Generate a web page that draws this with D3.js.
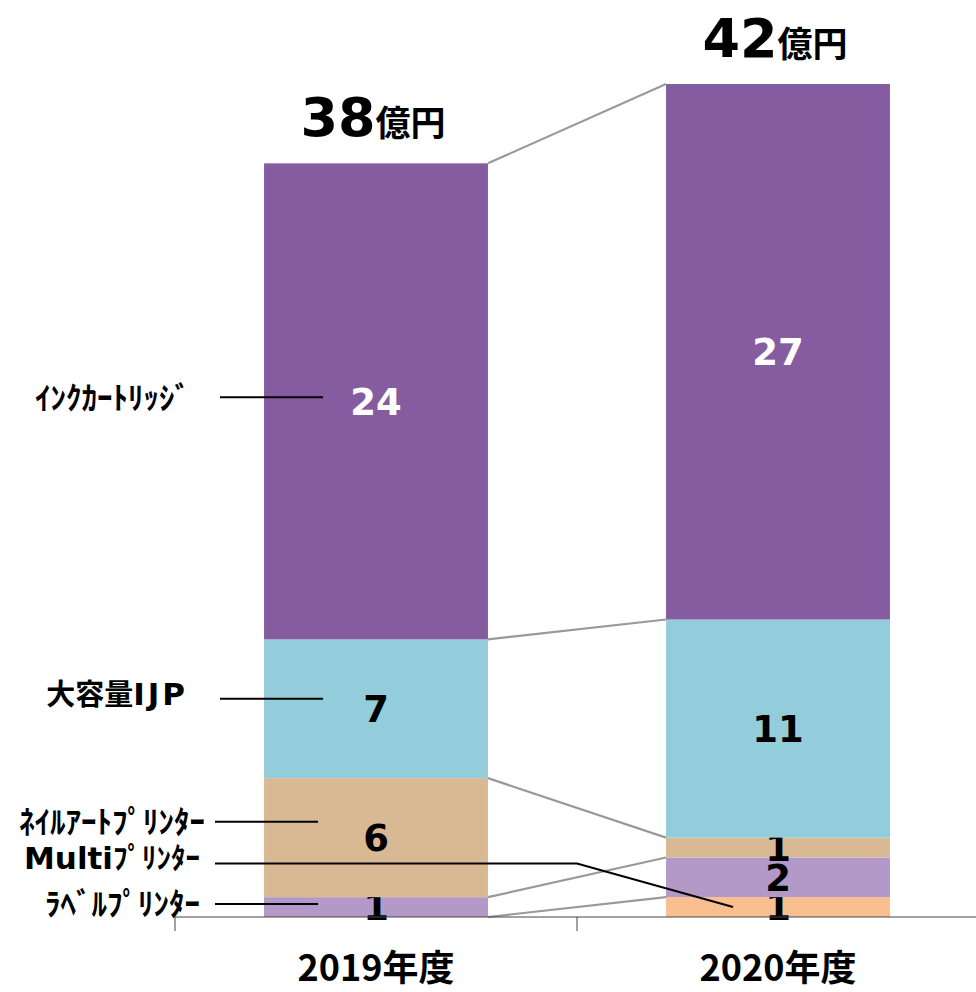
<!DOCTYPE html>
<meta charset="utf-8">
<script src="https://d3js.org/d3.v7.min.js"></script>
<style>
  body { margin: 0; background: #fff; }
  .num { font-family: "DejaVu Sans", Verdana, sans-serif; font-weight: bold; }
  .jp { font-family: "Noto Sans CJK JP", sans-serif; font-weight: bold; }
</style>
<body>
<script>

// DATA (stack order: bottom -> top)

var years = ["2019年度", "2020年度"];
var keys = ["multi", "label", "nail", "ijp", "ink"];
var seriesNames = ["Multiﾌﾟﾘﾝﾀｰ", "ﾗﾍﾞﾙﾌﾟﾘﾝﾀｰ", "ﾈｲﾙｱｰﾄﾌﾟﾘﾝﾀｰ", "大容量IJP", "ｲﾝｸｶｰﾄﾘｯｼﾞ"];
var values2019 = [0, 1, 6, 7, 24];
var values2020 = [1, 2, 1, 11, 27];
var totals = [38, 42];
var totalUnit = "億円";

var colors = ["#F9BF8F", "#B399C7", "#D9B993", "#93CDDC", "#865CA0"];
var labelColors = ["#000", "#000", "#000", "#000", "#fff"];

// where the left-hand leader lines sit, in value units
var leaderLevel = [2.7, 0.65, 4.8, 11, 26.2];
var nameRight = [200, 200, 205, 188, 190];
var leaderStart = [215, 215, 215, 220, 220];


// SETUP

var width = 976;
var height = 992;

var svg = d3.select("body")
  .append("svg")
  .attr("width", width)
  .attr("height", height);

var rows = years.map(function (y, i) {
  var r = { year: y };
  keys.forEach(function (k, j) {
    r[k] = (i === 0 ? values2019 : values2020)[j];
  });
  return r;
});

var stacked = d3.stack().keys(keys)(rows);

var xScale = d3.scaleBand()
  .domain(years)
  .range([175, 979]);

var barW = xScale.bandwidth() * 0.557;
var barX = function (yr) { return xScale(yr) + (xScale.bandwidth() - barW) / 2; };

var yScale = d3.scaleLinear()
  .domain([0, d3.max(totals)])
  .range([917, 84]);


// BARS

var layers = svg.append("g")
  .selectAll("g")
  .data(stacked)
  .enter().append("g")
  .attr("fill", function (d, i) { return colors[i]; });

layers.selectAll("rect")
  .data(function (d) { return d; })
  .enter().append("rect")
  .attr("x", function (d) { return barX(d.data.year); })
  .attr("width", barW)
  .attr("y", function (d) { return yScale(d[1]); })
  .attr("height", function (d) { return yScale(d[0]) - yScale(d[1]); });


// SERIES LINES

svg.append("g")
  .selectAll("line")
  .data(stacked)
  .enter().append("line")
  .attr("x1", barX(years[0]) + barW)
  .attr("y1", function (d) { return yScale(d[0][1]); })
  .attr("x2", barX(years[1]))
  .attr("y2", function (d) { return yScale(d[1][1]); })
  .attr("stroke", "#999")
  .attr("stroke-width", 2.2);


// AXIS

var axis = svg.append("g").attr("stroke", "#444").attr("stroke-width", 1);

axis.append("line")
  .attr("x1", xScale.range()[0]).attr("x2", width)
  .attr("y1", yScale(0)).attr("y2", yScale(0));

axis.selectAll(".tick")
  .data(years)
  .enter().append("line")
  .attr("x1", function (d) { return xScale(d); })
  .attr("x2", function (d) { return xScale(d); })
  .attr("y1", yScale(0))
  .attr("y2", yScale(0) + 14);

svg.append("g")
  .selectAll("text")
  .data(years)
  .enter().append("text")
  .attr("class", "jp")
  .attr("x", function (d) { return xScale(d) + xScale.bandwidth() / 2; })
  .attr("y", 981)
  .attr("text-anchor", "middle")
  .style("font-size", "36px")
  .text(function (d) { return d; });


// VALUE LABELS

layers.each(function (layer, i) {
  d3.select(this).selectAll("text")
    .data(layer.filter(function (d) { return d[1] - d[0] > 0; }))
    .enter().append("text")
    .attr("class", "num")
    .attr("x", function (d) { return barX(d.data.year) + barW / 2; })
    .attr("y", function (d) { return (yScale(d[0]) + yScale(d[1])) / 2; })
    .attr("dy", "0.36em")
    .attr("text-anchor", "middle")
    .attr("fill", labelColors[i])
    .style("font-size", "37px")
    .text(function (d) { return d[1] - d[0]; });
});


// TOTALS

var tot = svg.append("g")
  .selectAll("text")
  .data(years)
  .enter().append("text")
  .attr("x", function (d) { return barX(d) + barW / 2 - 3; })
  .attr("y", function (d, i) { return yScale(totals[i]) - 27; })
  .attr("text-anchor", "middle");

tot.append("tspan")
  .attr("class", "num")
  .style("font-size", "54px")
  .text(function (d, i) { return totals[i]; });

tot.append("tspan")
  .attr("class", "jp")
  .style("font-size", "35px")
  .text(totalUnit);


// SERIES NAMES + LEADER LINES

var x2019 = barX(years[0]);
var x2020 = barX(years[1]);

seriesNames.forEach(function (name, i) {
  var ly = yScale(leaderLevel[i]);
  var t = svg.append("text")
    .attr("x", nameRight[i])
    .attr("y", ly)
    .attr("dy", "0.36em")
    .attr("text-anchor", "end");

  if (keys[i] === "multi") {
    t.append("tspan").attr("class", "num").style("font-size", "31px").text("Multi");
    t.append("tspan").attr("class", "jp").style("font-size", "29px").text(name.replace("Multi", ""));
    var seg = stacked[i][1];
    var endY = (yScale(seg[0]) + yScale(seg[1])) / 2;
    svg.append("polyline")
      .attr("points", [[leaderStart[i], ly], [xScale(years[1]), ly], [x2020 + 67, endY]].join(" "))
      .attr("fill", "none")
      .attr("stroke", "#000")
      .attr("stroke-width", 2);
  } else if (keys[i] === "ijp") {
    t.append("tspan").attr("class", "jp").style("font-size", "29px").text("大容量");
    t.append("tspan").attr("class", "num").style("font-size", "31px")
      .style("letter-spacing", "3px").text("IJP");
    svg.append("line")
      .attr("x1", leaderStart[i]).attr("x2", x2019 + 59)
      .attr("y1", ly).attr("y2", ly)
      .attr("stroke", "#000").attr("stroke-width", 2);
  } else {
    t.attr("class", "jp").style("font-size", "31px").text(name);
    svg.append("line")
      .attr("x1", leaderStart[i])
      .attr("x2", x2019 + (keys[i] === "ink" ? 59 : 54))
      .attr("y1", ly).attr("y2", ly)
      .attr("stroke", "#000").attr("stroke-width", 2);
  }
});

</script>
</body>
